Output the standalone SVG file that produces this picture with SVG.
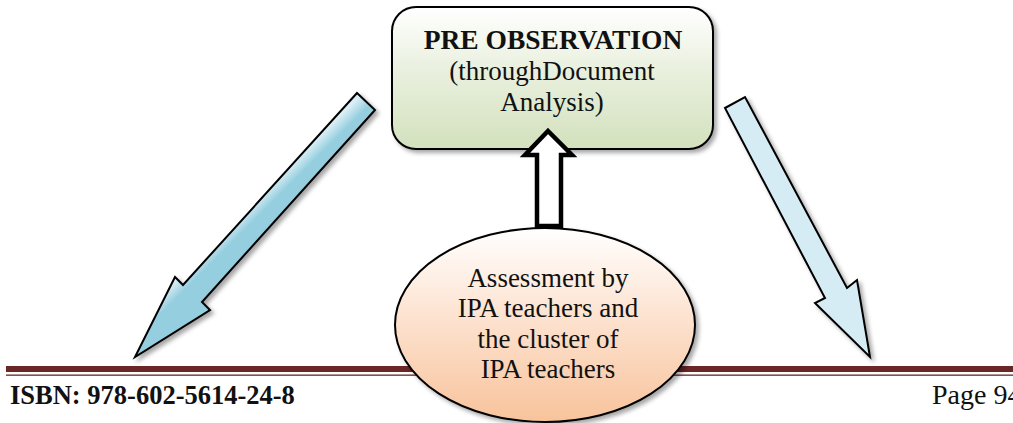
<svg xmlns="http://www.w3.org/2000/svg" width="1013" height="423" viewBox="0 0 1013 423">
<defs>
<linearGradient id="gBox" x1="0" y1="0" x2="0" y2="1">
<stop offset="0" stop-color="#ffffff"/>
<stop offset="0.45" stop-color="#e9f0de"/>
<stop offset="1" stop-color="#d3e1bd"/>
</linearGradient>
<linearGradient id="gEll" x1="0" y1="0" x2="0" y2="1">
<stop offset="0" stop-color="#ffffff"/>
<stop offset="0.4" stop-color="#fde6d6"/>
<stop offset="1" stop-color="#f8c39c"/>
</linearGradient>
<linearGradient id="gLeft2" gradientUnits="userSpaceOnUse" x1="260" y1="175" x2="280" y2="195">
<stop offset="0" stop-color="#94cedf"/>
<stop offset="0.5" stop-color="#dcf0f5"/>
<stop offset="1" stop-color="#94cedf"/>
</linearGradient>
<filter id="sh" x="-10%" y="-10%" width="130%" height="130%">
<feGaussianBlur in="SourceAlpha" stdDeviation="2"/>
<feOffset dx="3" dy="3" result="b"/>
<feFlood flood-color="#000" flood-opacity="0.35"/>
<feComposite in2="b" operator="in"/>
<feMerge><feMergeNode/><feMergeNode in="SourceGraphic"/></feMerge>
</filter>
</defs>
<style>
.outline{stroke:#000;stroke-width:2;stroke-linejoin:miter}
.t{fill:#111;text-anchor:middle}
</style>
<rect width="1013" height="423" fill="#fff"/>

<g id="footer">
<rect x="6" y="366" width="1007" height="6" fill="#6b2626"/>
<rect x="6" y="374.5" width="1007" height="1.3" fill="#6b2626"/>
<text x="10" y="404" font-family="Liberation Serif, serif" font-weight="bold" font-size="26.5" fill="#111">ISBN: 978-602-5614-24-8</text>
<text x="932" y="404" font-family="Liberation Serif, serif" font-size="28" fill="#111">Page 94</text>
</g>

<g id="node-pre-observation">
<rect x="392" y="7" width="321" height="142" rx="24" ry="24" fill="url(#gBox)" class="outline" filter="url(#sh)"/>
<text class="t" font-family="Liberation Serif, serif" x="553" y="49" font-size="27.5" font-weight="bold">PRE OBSERVATION</text>
<text class="t" font-family="Liberation Serif, serif" x="552" y="80" font-size="27">(throughDocument</text>
<text class="t" font-family="Liberation Serif, serif" x="552" y="111" font-size="27">Analysis)</text>
</g>

<g id="node-assessment">
<ellipse cx="545" cy="325" rx="150" ry="97" fill="url(#gEll)" class="outline" filter="url(#sh)"/>
<text class="t" font-family="Liberation Serif, serif" x="548" y="287" font-size="27">Assessment by</text>
<text class="t" font-family="Liberation Serif, serif" x="548" y="317" font-size="27">IPA teachers and</text>
<text class="t" font-family="Liberation Serif, serif" x="548" y="348" font-size="27">the cluster of</text>
<text class="t" font-family="Liberation Serif, serif" x="548" y="378" font-size="27">IPA teachers</text>
</g>

<g id="connectors">
<polygon class="outline" filter="url(#sh)" fill="url(#gLeft2)" points="357,93 375,110 202,302 210,310 135,357 175,277 183,285"/>
<polygon class="outline" filter="url(#sh)" fill="#d6ecf4" points="725,108 745,97 847,288 857,280 870,357 815,303 825,298"/>
<polygon fill="#fff" stroke="#000" stroke-width="4.5" stroke-linejoin="miter" points="548,131 572,155 561,155 561,226 537,226 537,155 525,155"/>
</g>
</svg>
